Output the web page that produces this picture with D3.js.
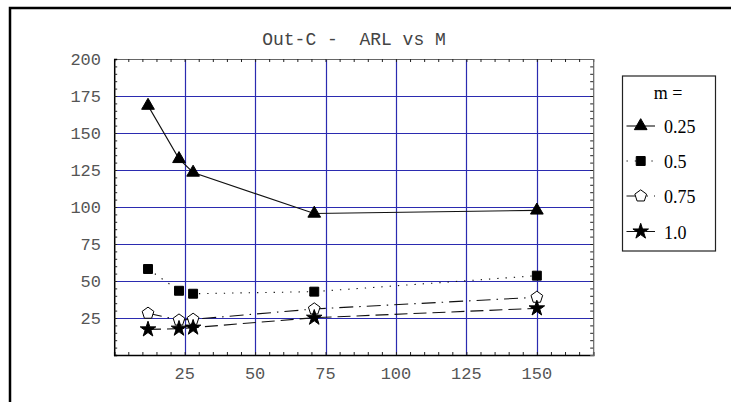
<!DOCTYPE html>
<html><head><meta charset="utf-8">
<script src="https://cdn.jsdelivr.net/npm/d3@7"></script>
<style>body{margin:0;background:#fff}svg{display:block}text{white-space:pre}</style>
</head><body>
<svg id="c" width="731" height="402"></svg>
<script>
const titleText = "Out-C -  ARL vs M";
const mValues = [12, 23, 28, 71, 150];
const arl025 = [168.5, 132.5, 123.3, 95.6, 97.7];
const arl05 = [58.1, 43.4, 41.4, 42.8, 53.6];
const arl075 = [28.2, 23.6, 24.1, 31.1, 39.0];
const arl10 = [17.3, 17.8, 18.5, 25.2, 31.5];
const seriesNames = ["0.25", "0.5", "0.75", "1.0"];
const xTickLabels = [25, 50, 75, 100, 125, 150];
const yTickLabels = [25, 50, 75, 100, 125, 150, 175, 200];
const legendTitle = "m =";

const svg = d3.select("#c");
const L = 114.2, T = 59, W = 479, H = 296;
const x = d3.scaleLinear().domain([0, 170]).range([L, L + W]);
const y = d3.scaleLinear().domain([0, 200]).range([T + H, T]);
const px = v => Math.round(v) + 0.5;

// outer frame (left + top only)
svg.append("path").attr("d", "M10,402 V8 H731").attr("fill", "none").attr("stroke", "#000").attr("stroke-width", 2.5);

// title
svg.append("text").attr("x", 354).attr("y", 45).attr("text-anchor", "middle")
  .attr("font-family", "Liberation Mono, Courier New, monospace").attr("font-size", 18).attr("fill", "#444")
  .text(titleText);

// grid
const grid = svg.append("g").attr("stroke", "#2b2bb0").attr("stroke-width", 1.2);
xTickLabels.forEach(v => grid.append("line").attr("x1", px(x(v))).attr("x2", px(x(v))).attr("y1", T).attr("y2", T + H));
yTickLabels.filter(v => v < 200).forEach(v => grid.append("line").attr("y1", px(y(v))).attr("y2", px(y(v))).attr("x1", L).attr("x2", L + W));

// frame axes with inward ticks
const minorX = d3.range(5, 170, 5), minorY = d3.range(5, 200, 5);
const ax = svg.append("g");
ax.append("g").attr("transform", `translate(0,${T + H})`)
  .call(d3.axisBottom(x).tickValues(minorX).tickSize(-3).tickFormat(""))
  .call(g => g.select(".domain").attr("stroke", "#000").attr("stroke-width", 1.5));
ax.append("g").attr("transform", `translate(0,${T})`)
  .call(d3.axisTop(x).tickValues(minorX).tickSize(-3).tickFormat(""))
  .call(g => g.select(".domain").attr("stroke", "#666").attr("stroke-width", 1.2));
ax.append("g").attr("transform", `translate(${L},0)`)
  .call(d3.axisLeft(y).tickValues(minorY).tickSize(-3).tickFormat(""))
  .call(g => g.select(".domain").attr("stroke", "#000").attr("stroke-width", 1.5));
ax.append("g").attr("transform", `translate(${L + W},0)`)
  .call(d3.axisRight(y).tickValues(minorY).tickSize(-3).tickFormat(""))
  .call(g => g.select(".domain").attr("stroke", "#666").attr("stroke-width", 1.2));
ax.selectAll(".tick line").attr("stroke", "#222");

// tick labels
const lab = svg.append("g").attr("font-family", "Liberation Mono, Courier New, monospace").attr("font-size", 17).attr("fill", "#555");
xTickLabels.forEach(v => lab.append("text").attr("x", x(v)).attr("y", 379).attr("text-anchor", "middle").text(v));
yTickLabels.forEach(v => lab.append("text").attr("x", 101).attr("y", y(v) + 5.5).attr("text-anchor", "end").text(v));

// symbols
const pentagon = {draw(ctx, size) {
  const r = Math.sqrt(size / 2.378);
  for (let i = 0; i < 5; i++) {
    const a = -Math.PI / 2 + i * 2 * Math.PI / 5;
    const qx = r * Math.cos(a), qy = r * Math.sin(a);
    if (i === 0) ctx.moveTo(qx, qy); else ctx.lineTo(qx, qy);
  }
  ctx.closePath();
}};
const series = [
  {vals: arl025, dash: null, sym: d3.symbolTriangle, size: 70, fill: "#000"},
  {vals: arl05, dash: "1.3,7", sym: d3.symbolSquare, size: 80, fill: "#000"},
  {vals: arl075, dash: "14,6,1.5,6", sym: pentagon, size: 90, fill: "#fff"},
  {vals: arl10, dash: "13,6", sym: d3.symbolStar, size: 75, fill: "#000"}
];
const line = d3.line().x(d => x(d[0])).y(d => y(d[1]));
series.forEach(s => {
  const pts = mValues.map((m, i) => [m, s.vals[i]]);
  svg.append("path").attr("d", line(pts)).attr("fill", "none").attr("stroke", "#111").attr("stroke-width", 1.1)
    .attr("stroke-dasharray", s.dash);
});
series.forEach(s => {
  mValues.forEach((m, i) => {
    svg.append("path").attr("d", d3.symbol(s.sym, s.size)())
      .attr("transform", `translate(${x(m)},${y(s.vals[i])})`)
      .attr("fill", s.fill).attr("stroke", "#000").attr("stroke-width", 1);
  });
});

// legend
const lg = svg.append("g");
lg.append("rect").attr("x", 622.5).attr("y", 76).attr("width", 93).attr("height", 175)
  .attr("fill", "#fff").attr("stroke", "#222").attr("stroke-width", 1.2);
lg.append("text").attr("x", 668).attr("y", 99).attr("text-anchor", "middle")
  .attr("font-family", "Liberation Serif, Times New Roman, serif").attr("font-size", 18).text(legendTitle);
const legY = [126, 161, 196, 231.5];
series.forEach((s, i) => {
  lg.append("line").attr("x1", 626.5).attr("x2", 655).attr("y1", legY[i]).attr("y2", legY[i])
    .attr("stroke", "#111").attr("stroke-width", 1.1).attr("stroke-dasharray", s.dash);
  lg.append("path").attr("d", d3.symbol(s.sym, s.size)()).attr("transform", `translate(640.7,${legY[i]})`)
    .attr("fill", s.fill).attr("stroke", "#000").attr("stroke-width", 1);
  lg.append("text").attr("x", 664).attr("y", legY[i] + 7).attr("font-family", "Liberation Serif, Times New Roman, serif")
    .attr("font-size", 18).text(seriesNames[i]);
});
</script>
</body></html>
